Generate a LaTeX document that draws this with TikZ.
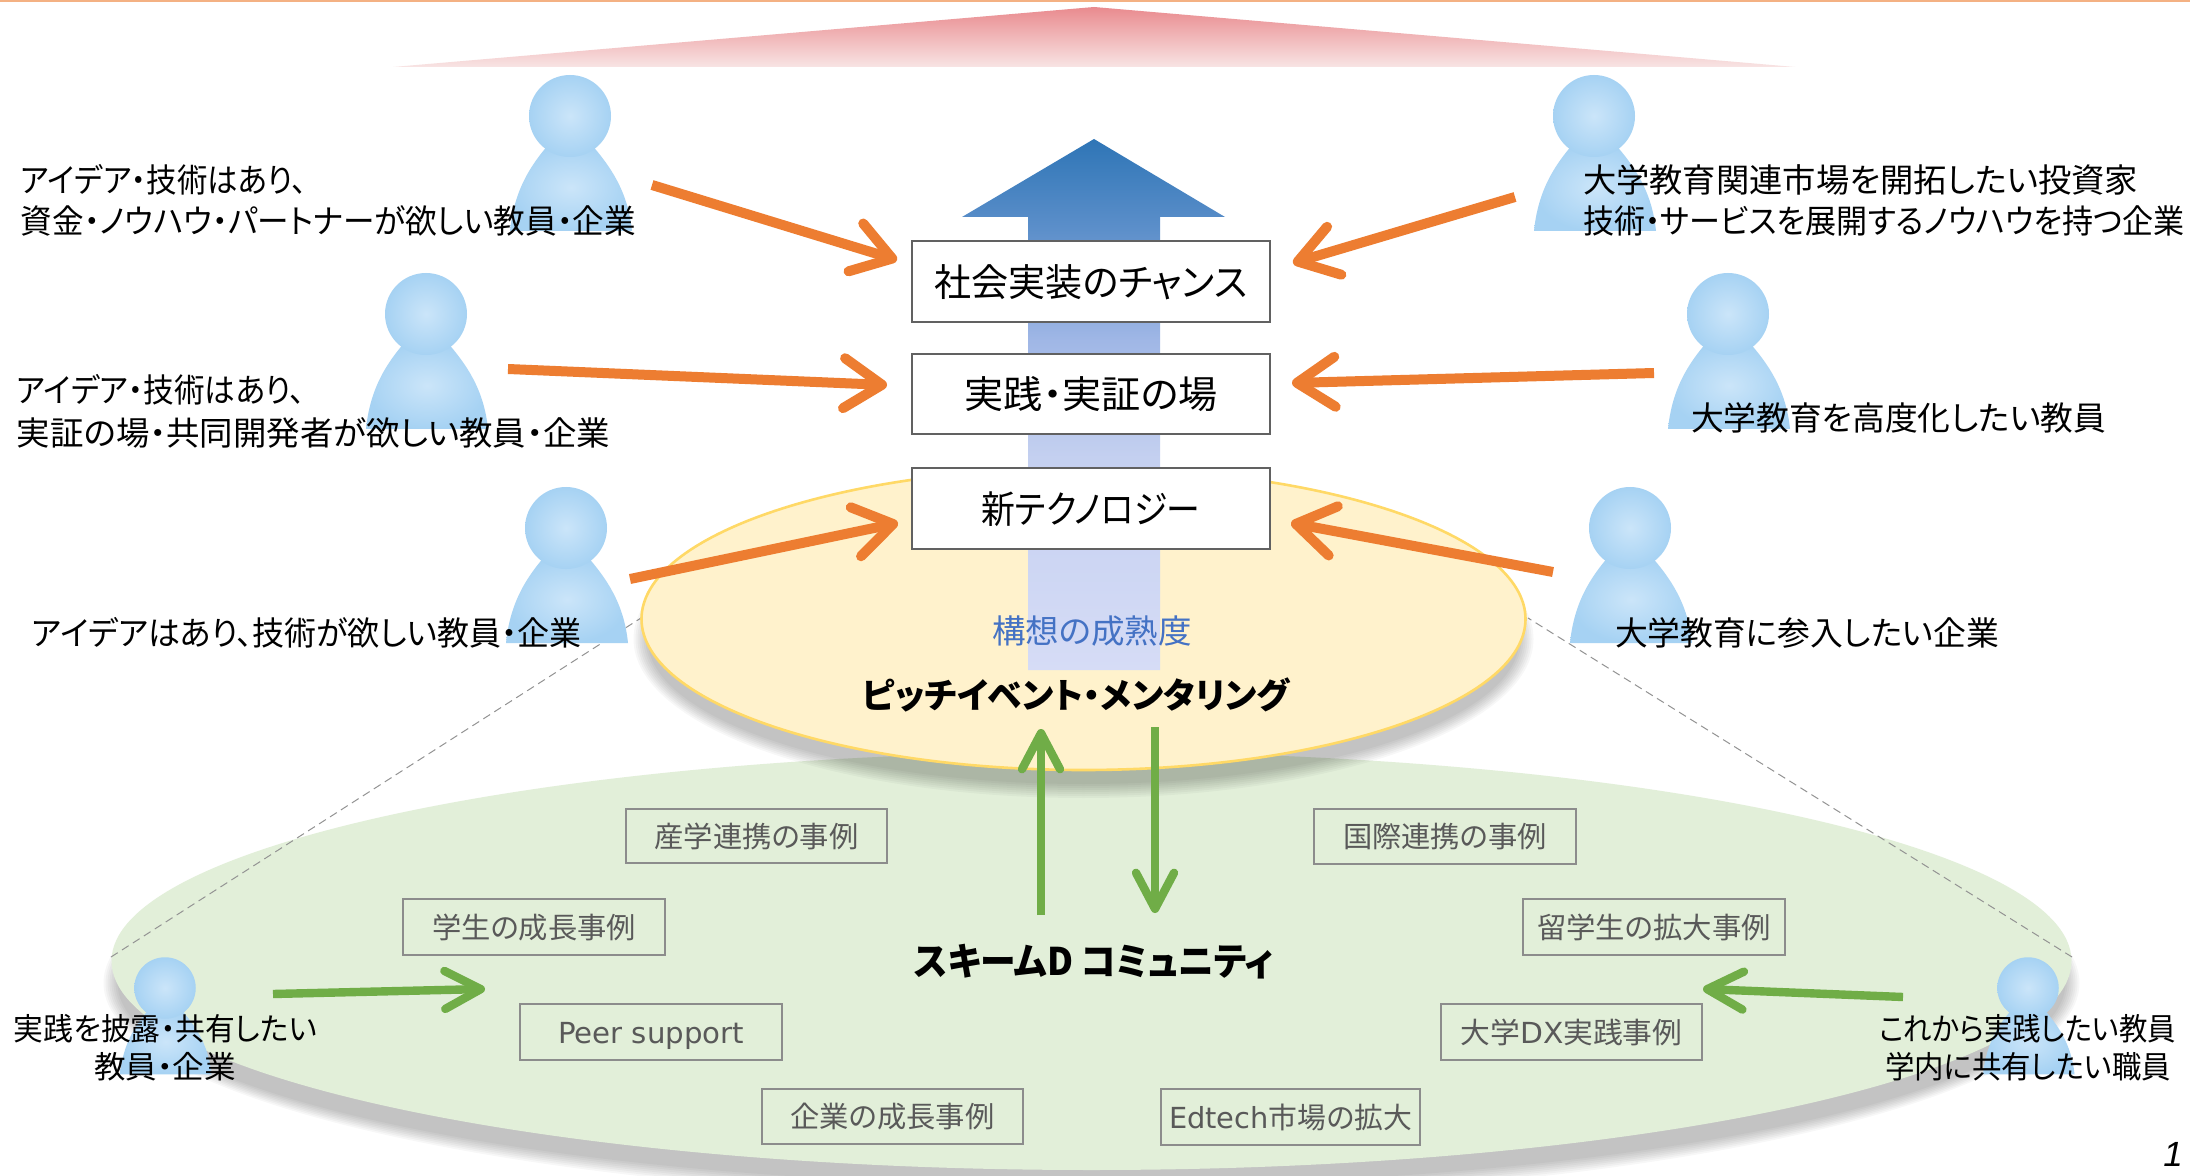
\documentclass[tikz,border=0pt]{standalone}
\usepackage{fontspec}
\usepackage{graphicx}
\usetikzlibrary{arrows.meta}
\setmainfont{Noto Sans CJK JP}[RawFeature=+palt]
\newfontfamily\latf{DejaVu Sans}
\newfontfamily\numf{Liberation Sans}
\definecolor{orangeA}{HTML}{ED7D31}
\definecolor{greenA}{HTML}{70AD47}
\definecolor{greenE}{HTML}{E2EFD9}
\definecolor{yellowE}{HTML}{FFF2CC}
\definecolor{yellowL}{HTML}{FFD966}
\definecolor{grayT}{HTML}{595959}
\definecolor{grayB}{HTML}{8C8C8C}
\definecolor{blueT}{HTML}{4472C4}
\definecolor{topline}{HTML}{F4B183}
\definecolor{pinkT}{HTML}{E98A8E}
\definecolor{pinkB}{HTML}{F8E4E4}
\definecolor{perI}{HTML}{CBE5F9}
\definecolor{perO}{HTML}{A6D2F3}
\definecolor{arrA}{RGB}{214,220,246}
\definecolor{arrC}{RGB}{196,208,240}
\definecolor{arrD}{RGB}{160,183,230}
\definecolor{arrE}{RGB}{92,143,202}
\definecolor{arrF}{RGB}{46,117,182}
\pgfdeclareverticalshading{bigarrowshade}{100bp}{
  color(0bp)=(arrA);
  color(25bp)=(arrA);
  color(45bp)=(arrC);
  color(56bp)=(arrD);
  color(66.5bp)=(arrE);
  color(75bp)=(arrF);
  color(100bp)=(arrF)}
\tikzset{
  orangearrow/.style={draw=orangeA,line width=5pt,-{Straight Barb[length=19pt,width=25pt,round]}},
  greenarrow/.style={draw=greenA,line width=4.2pt,-{Straight Barb[length=18pt,width=19pt,round]}},
  linkdash/.style={draw=gray!85,line width=.5pt,dash pattern=on 4pt off 2.5pt},
  txt/.style={inner sep=0pt,outer sep=0pt,text=black},
  mainbox/.style={draw=black!62,line width=1pt,fill=white,inner sep=0pt},
  casebox/.style={draw=grayB,line width=.8pt,inner sep=0pt,text=grayT},
  persona/.style={inner color=perI,outer color=perO},
}
\newcommand{\fw}[2]{\resizebox{\dimexpr #1pt/2\relax}{\height}{#2}}
% name, anchor, x, y, width(px), size(pt), text
\newcommand{\tx}[7]{\node[txt,anchor=#2] (#1) at (#3,#4) {\fontsize{#6}{#6}\selectfont\fw{#5}{#7}};}
% name, x1, y1, x2, y2, style, size, textwidth, text
\newcommand{\bx}[9]{%
  \pgfmathsetmacro{\bxw}{(#4-#2)*0.5}\pgfmathsetmacro{\bxh}{(#5-#3)*0.5}%
  \pgfmathsetmacro{\bxx}{(#2+#4)/2}\pgfmathsetmacro{\bxy}{(#3+#5)/2}%
  \node[#6,minimum width=\bxw pt,minimum height=\bxh pt] (#1) at (\bxx,\bxy) {\fontsize{#7}{#7}\selectfont\fw{#8}{\rule[-.3em]{0pt}{1.38em}#9}};}
% x, y of head centre, scale
\newcommand{\person}[3]{%
  \begin{scope}[shift={(#1,#2)},scale=#3]
    \path[persona] (-60,115) .. controls (-56,75) and (-40,50) .. (-21,28) -- (21,28) .. controls (40,50) and (58,75) .. (62,115) -- cycle;
    \path[persona] (0,0) ellipse [x radius=41,y radius=41];
  \end{scope}}
% centre x, y, rx, ry
\newcommand{\softshadow}[4]{%
  \foreach \q in {8,6,...,-6}{%
    \fill[black,opacity=.03] (#1,#2) ellipse [x radius=#3+\q,y radius=#4+\q];}}
\begin{document}
\begin{tikzpicture}[x=0.5pt,y=-0.5pt]
\useasboundingbox (0,0) rectangle (2190,1176);
\fill[white] (0,0) rectangle (2190,1176);
\fill[topline] (0,0) rectangle (2190,2);
% crown
\path[top color=pinkT,bottom color=pinkB] (393,67) -- (1094,7) -- (1795,67) -- cycle;
% green disc
\softshadow{1091.5}{983}{980}{209}
\fill[greenE] (1091.5,961) ellipse [x radius=980,y radius=209];
% dashed
\coordinate (dl1) at (111,957); \coordinate (dl2) at (641,618);
\coordinate (dr1) at (2072,957); \coordinate (dr2) at (1528,618);
\draw[linkdash] (dl1) -- (dl2);
\draw[linkdash] (dr1) -- (dr2);
% yellow disc
\softshadow{1083.5}{639}{442}{151}
\fill[yellowE,draw=yellowL,line width=1.3pt] (1083.5,619) ellipse [x radius=442,y radius=151];
% big arrow
\path[shading=bigarrowshade] (1094,139) -- (1225,217) -- (1160,217) -- (1160,670) -- (1028,670) -- (1028,217) -- (962,217) -- cycle;
% persons
\person{570}{116}{1}
\person{426}{314}{1}
\person{566}{528}{1}
\person{1594}{116}{1}
\person{1728}{314}{1}
\person{1630}{528}{1}
\person{165}{988}{.75}
\person{2028}{988}{.75}
% main boxes
\bx{chance}{912}{241}{1270}{322}{mainbox}{19}{313}{社会実装のチャンス}
\bx{field}{912}{354}{1270}{434}{mainbox}{19}{253}{実践・実証の場}
\bx{tech}{912}{468}{1270}{549}{mainbox}{19}{219}{新テクノロジー}
% case boxes
\bx{c1}{626}{809}{887}{863}{casebox}{14.5}{204}{産学連携の事例}
\bx{c2}{403}{899}{665}{955}{casebox}{14.5}{204}{学生の成長事例}
\bx{c3}{520}{1004}{782}{1060}{casebox}{14.5}{186}{{\latf Peer support}}
\bx{c4}{762}{1089}{1023}{1144}{casebox}{14.5}{204}{企業の成長事例}
\bx{c5}{1161}{1089}{1420}{1145}{casebox}{14.5}{243}{{\latf Edtech}市場の拡大}
\bx{c6}{1314}{809}{1576}{864}{casebox}{14.5}{204}{国際連携の事例}
\bx{c7}{1523}{899}{1785}{955}{casebox}{14.5}{234}{留学生の拡大事例}
\bx{c8}{1441}{1004}{1702}{1060}{casebox}{14.5}{222}{大学{\latf DX}実践事例}
% texts
\tx{l1a}{west}{21}{180}{286}{16.5}{アイデア・技術はあり、}
\tx{l1b}{west}{21}{221}{615}{16.5}{資金・ノウハウ・パートナーが欲しい教員・企業}
\tx{l2a}{west}{17}{390}{288}{16.5}{アイデア・技術はあり、}
\tx{l2b}{west}{17}{433}{593}{16.5}{実証の場・共同開発者が欲しい教員・企業}
\tx{l3}{west}{32}{633}{549}{16.5}{アイデアはあり、技術が欲しい教員・企業}
\tx{r1a}{west}{1583}{180}{555}{16.5}{大学教育関連市場を開拓したい投資家}
\tx{r1b}{west}{1583}{221}{602}{16.5}{技術・サービスを展開するノウハウを持つ企業}
\tx{r2}{west}{1691}{418}{415}{16.5}{大学教育を高度化したい教員}
\tx{r3}{west}{1615}{633}{384}{16.5}{大学教育に参入したい企業}
\tx{maturity}{center}{1092}{631}{200}{16.5}{\textcolor{blueT}{構想の成熟度}}
\tx{pitch}{center}{1076}{695}{427}{17.5}{\bfseries ピッチイベント・メンタリング}
\tx{scheme}{center}{1094}{962}{359}{19}{\bfseries スキームD コミュニティ}
\tx{s1a}{west}{14}{1029}{303}{15.5}{実践を披露・共有したい}
\tx{s1b}{west}{94}{1067}{142}{15.5}{教員・企業}
\tx{s2a}{west}{1879}{1029}{297}{15.5}{これから実践したい教員}
\tx{s2b}{west}{1885}{1067}{286}{15.5}{学内に共有したい職員}
\node[txt] (pageno) at (2173,1154) {\fontsize{17.5}{17.5}\selectfont\numf\itshape 1};
% orange arrows
\coordinate (a1) at (652,185); \coordinate (a1e) at (897,260);
\coordinate (a2) at (508,369); \coordinate (a2e) at (887,385);
\coordinate (a3) at (630,579); \coordinate (a3e) at (898,523);
\coordinate (a4) at (1515,197); \coordinate (a4e) at (1293,263);
\coordinate (a5) at (1654,373); \coordinate (a5e) at (1292,383);
\coordinate (a6) at (1553,572); \coordinate (a6e) at (1291,523);
\foreach \p in {1,...,6}{\draw[orangearrow] (a\p) -- (a\p e);}
% green arrows
\coordinate (g1) at (1041,915); \coordinate (g1e) at (1041,729);
\coordinate (g2) at (1155,727); \coordinate (g2e) at (1155,913);
\coordinate (g3) at (273,994); \coordinate (g3e) at (485,989);
\coordinate (g4) at (1903,997); \coordinate (g4e) at (1703,989);
\foreach \p in {1,...,4}{\draw[greenarrow] (g\p) -- (g\p e);}
\end{tikzpicture}
\end{document}
